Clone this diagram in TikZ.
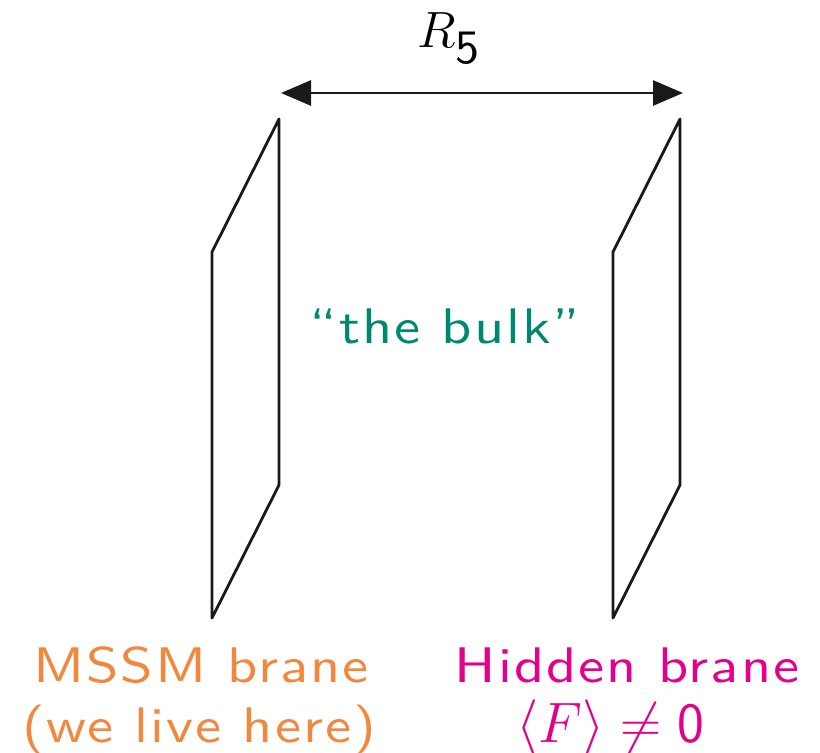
\RequirePackage{fix-cm}
\documentclass[tikz,border=0pt]{standalone}
\usepackage{fontspec}
\usetikzlibrary{arrows.meta}
\definecolor{mssm}{RGB}{242,135,62}
\definecolor{hidden}{RGB}{228,0,138}
\definecolor{bulk}{RGB}{0,136,110}
\newfontfamily\labfamily[FakeStretch=1.17,LetterSpace=4]{lmsans10-regular.otf}
\newfontfamily\digfamily{lmsans10-regular.otf}
\begin{document}
\begin{tikzpicture}[x=1pt,y=-1pt,
  brane/.style={draw=black!90,line width=2.8pt,line join=round},
  lab/.style={font=\labfamily\fontsize{50}{60}\selectfont,inner sep=0pt,anchor=base},
  mathlab/.style={font=\fontsize{57}{60}\selectfont,inner sep=0pt,anchor=base}]
\useasboundingbox (0,0) rectangle (820,753);
% left brane
\coordinate (L1) at (279,119);
\coordinate (L2) at (212,252);
\coordinate (L3) at (212,618);
\coordinate (L4) at (279,485);
\draw[brane] (L1) -- (L2) -- (L3) -- (L4) -- cycle;
% right brane
\coordinate (R1) at (680,119);
\coordinate (R2) at (613,252);
\coordinate (R3) at (613,618);
\coordinate (R4) at (680,485);
\draw[brane] (R1) -- (R2) -- (R3) -- (R4) -- cycle;
% arrow
\coordinate (A1) at (281,93);
\coordinate (A2) at (683,93);
\draw[line width=2.8pt,black!90,{Triangle[length=30pt,width=25pt]}-{Triangle[length=30pt,width=25pt]}] (A1) -- (A2);
\node[inner sep=0pt,anchor=base west,font=\fontsize{51}{60}\selectfont] (r5) at (417,47) {$R$\raisebox{-16pt}{\digfamily\fontsize{48}{50}\selectfont 5}};
\node[lab,text=bulk] (bulk) at (445,343) {“the bulk”};
\node[lab,text=mssm] (m1) at (201,682) {MSSM brane};
\node[lab,text=mssm] (m2) at (199,742) {(we live here)};
\node[lab,text=hidden] (h1) at (627,682) {Hidden brane};
\node[mathlab,text=hidden] (h2) at (610,742) {$\langle F\rangle\neq\mathsf{0}$};
\end{tikzpicture}
\end{document}
